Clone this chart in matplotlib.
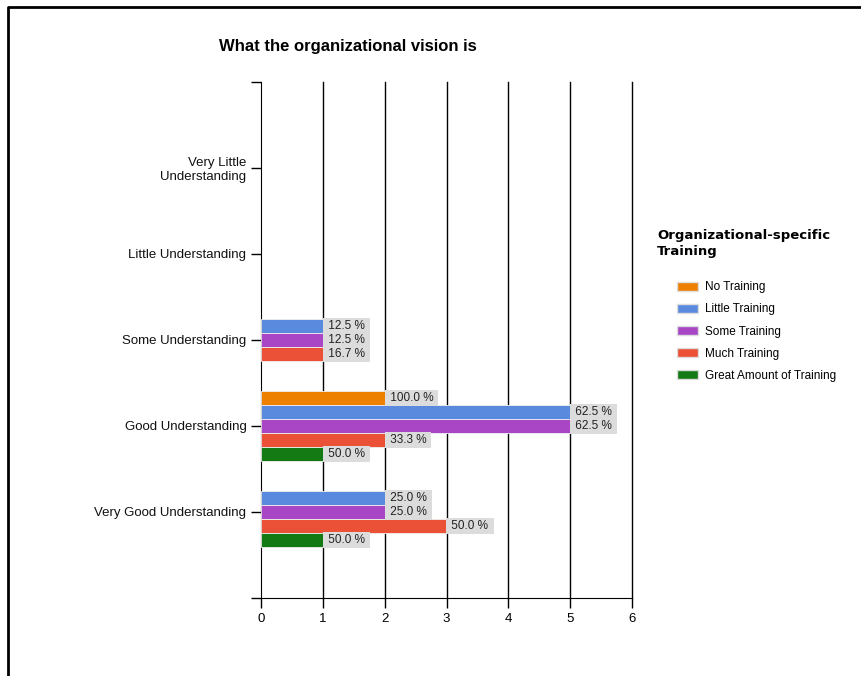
import numpy as np
import matplotlib.pyplot as plt
from matplotlib.patches import Patch

plt.rcParams['font.family'] = ['Liberation Sans', 'DejaVu Sans']

categories = ["Very Little\nUnderstanding", "Little Understanding", "Some Understanding",
              "Good Understanding", "Very Good Understanding"]
series = ["No Training", "Little Training", "Some Training", "Much Training",
          "Great Amount of Training"]
colors = ["#EE8000", "#5A8ADD", "#A846C6", "#EB5136", "#147A14"]

# respondent counts per category, one list per training group
no_training = [0, 0, 0, 2, 0]
little_training = [0, 0, 1, 5, 2]
some_training = [0, 0, 1, 5, 2]
much_training = [0, 0, 1, 2, 3]
great_training = [0, 0, 0, 1, 1]
counts = [no_training, little_training, some_training, much_training, great_training]

fig = plt.figure(figsize=(8.62, 6.76), dpi=100)
ax = fig.add_axes([0.3028, 0.1154, 0.4304, 0.7633])

# outer frame
fig.add_artist(plt.Line2D([0.009, 0.009, 1.0], [0.0, 0.989, 0.989],
                          transform=fig.transFigure, color="black", lw=2))

y = np.arange(1, len(categories) + 1)
bar_h = 0.162

for i, (name, vals, col) in enumerate(zip(series, counts, colors)):
    total = sum(vals)
    pos = y + (i - 2) * bar_h
    for yy, v in zip(pos, vals):
        if v == 0:
            continue
        ax.barh(yy, v, height=bar_h, color=col, edgecolor="#f0f0f0", linewidth=0.6, zorder=3)
        pct = v / total * 100
        ax.text(v + 0.03, yy, f" {pct:.1f} % ", va="center", ha="left", fontsize=8.5,
                color="#222222", zorder=4,
                bbox=dict(boxstyle="square,pad=0.16", fc="#dcdcdc", ec="none"))

ax.set_xlim(0, 6)
ax.set_ylim(6, 0)
ax.set_xticks(range(7))
ax.set_yticks(y)
ax.set_yticklabels(categories, fontsize=9.5, color="#111111")
ax.set_yticks([0, 6], minor=True)
ax.tick_params(axis="y", which="both", length=7, width=1)
ax.tick_params(axis="x", length=7, width=1, labelsize=9.5)
for gx in range(1, 7):
    ax.axvline(gx, color="black", lw=1, zorder=0, clip_on=False)
for s in ["top", "right"]:
    ax.spines[s].set_visible(False)

fig.text(0.404, 1 - 46 / 676, "What the organizational vision is", fontsize=12,
         fontweight="bold", ha="center", va="center")

fig.text(657 / 862, 1 - 229 / 676, "Organizational-specific\nTraining", family="DejaVu Sans",
         fontweight="bold", fontsize=9.5, ha="left", va="top", linespacing=1.3)

handles = [Patch(facecolor=c, edgecolor="#dddddd", label=s) for s, c in zip(series, colors)]
leg = fig.legend(handles=handles, loc="upper left", bbox_to_anchor=(668 / 862, 1 - 272 / 676),
                 frameon=False, fontsize=8.5, handlelength=1.75, handleheight=0.75,
                 handletextpad=0.55, labelspacing=0.85, borderpad=0.3)

fig.savefig("out.png", dpi=100)
